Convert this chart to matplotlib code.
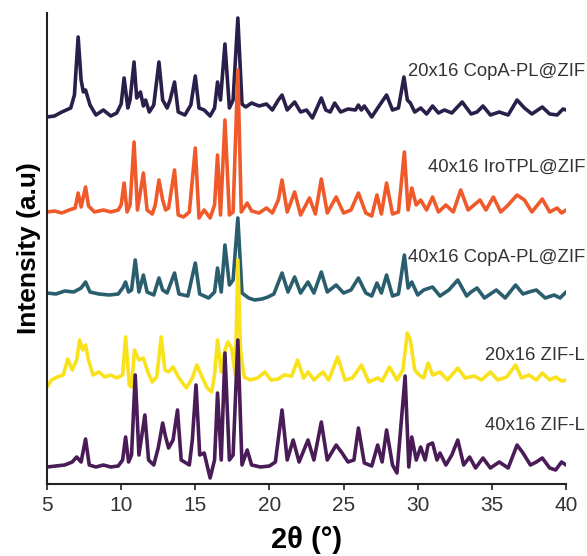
import matplotlib
matplotlib.use("Agg")
import matplotlib.pyplot as plt

plt.rcParams['font.family'] = ['Liberation Sans', 'DejaVu Sans']

# ---- data: (2theta, stacked intensity a.u.) ----
cop20_pts = [(5.0, 367), (5.5, 368), (6.0, 372), (6.6, 376), (6.85, 389), (7.1, 447), (7.3, 404),
             (7.45, 392), (7.6, 394), (7.9, 379), (8.3, 369), (8.8, 374), (9.3, 368), (9.7, 371),
             (10.0, 380), (10.2, 406), (10.45, 376), (10.6, 384), (10.87, 422), (11.05, 386),
             (11.2, 389), (11.3, 392), (11.5, 378), (11.65, 384), (11.9, 372), (12.2, 379),
             (12.55, 422), (12.8, 384), (13.1, 376), (13.3, 384), (13.6, 402), (13.85, 372),
             (14.3, 369), (14.7, 379), (15.0, 408), (15.25, 376), (15.6, 374), (16.0, 368),
             (16.3, 376), (16.5, 402), (16.7, 384), (17.0, 440), (17.3, 376), (17.55, 384),
             (17.87, 466), (18.15, 380), (18.4, 377), (18.8, 381), (19.3, 378), (19.8, 380),
             (20.2, 374), (20.6, 384), (20.85, 389), (21.2, 374), (21.7, 382), (22.1, 372),
             (22.5, 374), (22.9, 366), (23.2, 376), (23.5, 386), (23.8, 374), (24.1, 372),
             (24.4, 381), (24.8, 372), (25.3, 375), (25.8, 374), (26.0, 379), (26.2, 374),
             (26.4, 378), (26.9, 367), (27.3, 376), (27.9, 389), (28.3, 374), (28.7, 376),
             (29.07, 407), (29.3, 384), (29.5, 381), (29.8, 372), (30.2, 376), (30.6, 370),
             (31.0, 378), (31.4, 371), (31.8, 374), (32.3, 371), (33.0, 382), (33.6, 370),
             (34.0, 372), (34.4, 378), (34.9, 369), (35.5, 372), (36.1, 369), (36.7, 384),
             (37.2, 376), (37.7, 370), (38.4, 377), (38.9, 370), (39.4, 369), (39.8, 375),
             (40.0, 374)]

iro40_pts = [(5.0, 272), (5.5, 273), (6.0, 271), (6.5, 274), (6.9, 276), (7.1, 291), (7.3, 277),
             (7.6, 297), (7.8, 278), (8.2, 272), (8.8, 274), (9.3, 272), (9.8, 274), (10.0, 279),
             (10.2, 301), (10.4, 272), (10.6, 279), (10.87, 342), (11.1, 274), (11.5, 311),
             (11.75, 274), (12.1, 270), (12.3, 279), (12.55, 304), (12.8, 284), (13.0, 274),
             (13.2, 276), (13.6, 314), (13.85, 269), (14.2, 267), (14.6, 272), (15.0, 336),
             (15.25, 266), (15.6, 274), (16.0, 266), (16.3, 279), (16.5, 329), (16.7, 269),
             (17.0, 364), (17.3, 269), (17.55, 272), (17.87, 414), (18.1, 272), (18.5, 281),
             (18.8, 273), (19.3, 271), (19.8, 276), (20.2, 271), (20.6, 284), (20.85, 304),
             (21.2, 272), (21.7, 292), (22.1, 269), (22.7, 286), (23.1, 270), (23.5, 305),
             (23.9, 271), (24.5, 287), (25.0, 271), (25.5, 274), (26.0, 291), (26.5, 271),
             (26.9, 268), (27.25, 289), (27.55, 270), (27.9, 301), (28.3, 270), (28.7, 272),
             (29.1, 332), (29.35, 274), (29.6, 296), (29.9, 279), (30.2, 284), (30.6, 274),
             (31.0, 287), (31.4, 272), (31.9, 279), (32.4, 272), (32.9, 294), (33.4, 274),
             (33.8, 279), (34.2, 284), (34.6, 274), (35.1, 287), (35.6, 272), (36.1, 279),
             (36.7, 289), (37.2, 284), (37.7, 272), (38.4, 285), (38.9, 272), (39.4, 276),
             (39.7, 271), (40.0, 274)]

cop40_pts = [(5.0, 191), (5.6, 190), (6.2, 193), (6.8, 192), (7.3, 196), (7.6, 202), (7.9, 192),
             (8.5, 190), (9.2, 189), (9.8, 190), (10.1, 196), (10.3, 202), (10.5, 192), (10.7, 194),
             (10.95, 224), (11.2, 192), (11.5, 209), (11.75, 192), (12.2, 189), (12.55, 206),
             (12.8, 194), (13.1, 191), (13.6, 211), (13.9, 190), (14.5, 188), (15.0, 221),
             (15.3, 190), (15.9, 186), (16.3, 192), (16.5, 216), (16.75, 192), (17.0, 239),
             (17.3, 199), (17.55, 204), (17.87, 266), (18.15, 191), (18.6, 186), (19.0, 184),
             (19.5, 185), (19.9, 187), (20.3, 190), (20.85, 211), (21.25, 192), (21.7, 207),
             (22.1, 191), (22.6, 202), (23.0, 191), (23.5, 212), (23.9, 192), (24.5, 199),
             (25.0, 191), (25.5, 194), (26.0, 206), (26.5, 191), (26.9, 188), (27.25, 201),
             (27.55, 191), (27.9, 209), (28.3, 188), (28.7, 190), (29.1, 229), (29.35, 196),
             (29.6, 202), (30.0, 189), (30.4, 194), (31.0, 197), (31.5, 188), (32.1, 194),
             (32.7, 204), (33.3, 188), (33.6, 192), (34.0, 196), (34.5, 186), (35.3, 194),
             (35.9, 186), (36.6, 199), (37.1, 190), (37.5, 192), (38.0, 194), (38.6, 186),
             (39.2, 189), (39.6, 186), (40.0, 192)]

zif20_pts = [(5.0, 97), (5.3, 104), (5.7, 107), (6.1, 109), (6.4, 125), (6.7, 114), (7.0, 124),
             (7.2, 144), (7.4, 134), (7.6, 139), (7.8, 124), (8.1, 109), (8.5, 112), (8.9, 107),
             (9.3, 109), (9.7, 106), (10.1, 109), (10.3, 147), (10.55, 99), (10.7, 97), (10.9, 134),
             (11.2, 124), (11.5, 126), (11.8, 112), (12.1, 102), (12.4, 107), (12.7, 147),
             (12.95, 114), (13.2, 112), (13.5, 117), (13.9, 106), (14.4, 96), (14.8, 106),
             (15.1, 119), (15.4, 109), (15.8, 96), (16.1, 92), (16.3, 109), (16.5, 144), (16.75, 112),
             (17.0, 134), (17.2, 142), (17.45, 136), (17.7, 109), (17.87, 224), (18.05, 134),
             (18.3, 107), (18.7, 104), (19.2, 106), (19.7, 112), (20.1, 104), (20.6, 105),
             (21.0, 109), (21.5, 108), (21.9, 124), (22.3, 106), (22.6, 112), (23.0, 104),
             (23.6, 112), (24.0, 104), (24.6, 127), (25.1, 104), (25.6, 106), (26.2, 119),
             (26.7, 102), (27.3, 106), (27.6, 103), (28.1, 117), (28.6, 104), (29.0, 114),
             (29.3, 151), (29.5, 144), (29.8, 114), (30.1, 109), (30.4, 106), (30.7, 121),
             (31.0, 109), (31.5, 112), (32.0, 104), (32.7, 116), (33.2, 106), (33.8, 108),
             (34.3, 104), (34.9, 112), (35.4, 104), (36.0, 107), (36.6, 119), (37.0, 106),
             (37.5, 109), (38.0, 104), (38.4, 111), (38.9, 104), (39.3, 107), (39.7, 103),
             (40.0, 104)]

zif40_pts = [(5.0, 17), (5.6, 18), (6.2, 19), (6.7, 22), (7.0, 27), (7.3, 22), (7.6, 45), (7.85, 19),
             (8.3, 17), (8.8, 19), (9.3, 17), (9.8, 18), (10.1, 24), (10.3, 47), (10.5, 22),
             (10.7, 29), (10.95, 109), (11.2, 29), (11.6, 69), (11.85, 24), (12.2, 19), (12.5, 36),
             (12.8, 61), (13.0, 47), (13.2, 36), (13.5, 44), (13.8, 74), (14.05, 24), (14.6, 19),
             (14.8, 44), (15.05, 99), (15.3, 29), (15.6, 31), (16.0, 6), (16.3, 24), (16.5, 91),
             (16.75, 24), (17.0, 131), (17.3, 24), (17.55, 29), (17.87, 144), (18.15, 19),
             (18.5, 34), (18.8, 19), (19.4, 17), (20.0, 18), (20.4, 22), (20.85, 74), (21.2, 24),
             (21.6, 44), (22.0, 22), (22.6, 44), (23.0, 24), (23.5, 62), (23.9, 24), (24.5, 39),
             (24.9, 31), (25.3, 22), (25.7, 24), (26.0, 56), (26.4, 21), (26.9, 18), (27.3, 39),
             (27.6, 22), (27.9, 54), (28.3, 19), (28.6, 11), (29.15, 108), (29.4, 17), (29.6, 47),
             (29.9, 24), (30.2, 37), (30.5, 24), (30.7, 39), (31.0, 41), (31.3, 24), (31.5, 31),
             (31.9, 19), (32.3, 29), (32.7, 44), (33.1, 19), (33.5, 27), (33.9, 16), (34.4, 26),
             (34.9, 16), (35.5, 22), (36.1, 16), (36.7, 39), (37.1, 31), (37.6, 19), (38.0, 22),
             (38.4, 26), (38.9, 16), (39.3, 14), (39.7, 22), (40.0, 19)]

series_names = ["20x16 CopA-PL@ZIF", "40x16 IroTPL@ZIF", "40x16 CopA-PL@ZIF",
                "20x16 ZIF-L", "40x16 ZIF-L"]
series_pts = [cop20_pts, iro40_pts, cop40_pts, zif20_pts, zif40_pts]
series_colors = ["#2a1f4a", "#f05a2b", "#2a5e6e", "#f9e21c", "#4a1c57"]
label_y_px = [72, 167, 257, 355, 425]

x_ticks = [5, 10, 15, 20, 25, 30, 35, 40]

W, H = 587, 556
fig = plt.figure(figsize=(W / 100, H / 100), dpi=100)
ax = fig.add_axes([47 / W, 72 / H, 519 / W, 471 / H])

for pts, col in zip(series_pts, series_colors):
    xs = [p[0] for p in pts]
    ys = [p[1] for p in pts]
    ax.plot(xs, ys, color=col, lw=2.6, solid_joinstyle='round', solid_capstyle='round')

for name, ypx in zip(series_names, label_y_px):
    fig.text(585 / W, 1 - ypx / H, name, ha='right', va='center', fontsize=13.3, color='#333333')

ax.set_xlim(5, 40)
ax.set_ylim(0, 471)
ax.set_xticks(x_ticks)
ax.set_xticklabels([str(t) for t in x_ticks])
ax.set_yticks([])
for s in ['top', 'right']:
    ax.spines[s].set_visible(False)
for s in ['left', 'bottom']:
    ax.spines[s].set_linewidth(1.5)
    ax.spines[s].set_color('#222222')
ax.tick_params(axis='x', direction='out', length=4.5, width=1.2, labelsize=15,
               labelcolor='#333333', color='#222222', pad=4)
ax.set_xlabel("2θ (°)", fontsize=21, fontweight='bold', labelpad=8)
ax.set_ylabel("Intensity (a.u)", fontsize=19, fontweight='bold', labelpad=4)

fig.savefig("out.png", dpi=100)
